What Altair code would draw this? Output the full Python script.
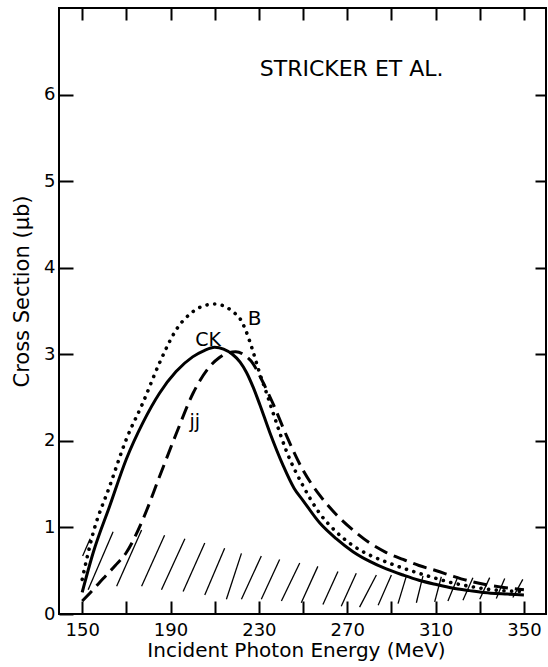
import altair as alt
import pandas as pd

# ---------------- data ----------------
# CK (solid)
ck_e = [150, 155, 162.5, 170, 177.5, 185, 192.5, 200, 205, 210, 214, 218, 221.5,
        224.4, 227.4, 230.4, 234.9, 240.9, 246, 250, 257.6, 265, 272.6, 280,
        287.7, 295.3, 302.5, 310.4, 317.5, 325.4, 335, 342.5, 350]
ck_v = [0.25, 0.71, 1.25, 1.79, 2.21, 2.55, 2.80, 2.97, 3.04, 3.08, 3.06, 3.00, 2.91,
        2.79, 2.62, 2.42, 2.10, 1.72, 1.45, 1.31, 1.05, 0.87, 0.72, 0.61,
        0.52, 0.45, 0.39, 0.34, 0.30, 0.27, 0.24, 0.23, 0.22]

# jj (dashed)
jj_e = [150, 154.5, 159.5, 165, 170, 177.6, 185.2, 192.7, 200.2, 207.8, 212, 215.3,
        219.5, 224, 227.4, 231, 236.4, 242.5, 250, 257.6, 265, 272.6, 280.2,
        287.7, 295.3, 302.5, 310.4, 317.5, 325.4, 332.5, 340, 350]
jj_v = [0.15, 0.27, 0.41, 0.56, 0.71, 1.10, 1.60, 2.09, 2.55, 2.86, 2.96, 3.01,
        3.03, 2.98, 2.89, 2.72, 2.43, 2.06, 1.66, 1.37, 1.15, 0.97, 0.82,
        0.71, 0.63, 0.56, 0.50, 0.44, 0.38, 0.34, 0.31, 0.28]

# B (dotted)
b_e = [150, 155, 162.5, 170, 177.5, 185, 192.5, 200, 205, 210, 214, 218.3, 221.5,
       224, 227, 230, 233.5, 237, 242.5, 250, 257.6, 265, 272.6, 280.2, 287.7,
       295.3, 302.5, 310.4, 317.5, 325.4, 332.5, 340, 350]
b_v = [0.40, 0.94, 1.48, 2.02, 2.44, 2.90, 3.28, 3.49, 3.56, 3.58, 3.56, 3.49, 3.41,
       3.28, 3.06, 2.81, 2.55, 2.28, 1.88, 1.48, 1.16, 0.95, 0.79, 0.68, 0.60,
       0.53, 0.47, 0.41, 0.36, 0.32, 0.29, 0.27, 0.26]

# hatched band (short slanted strokes)
hatch_x0 = [150.2, 152.7, 165.6, 176.9, 185.9, 195.7, 205.5, 215.3, 222.1, 231.1,
            240.2, 249.2, 259.0, 267.3, 275.6, 284.0, 293.0, 301.3, 309.6, 315.6,
            322.4, 330.0, 337.5, 345.0]
hatch_y0 = [0.67, 0.28, 0.32, 0.32, 0.28, 0.26, 0.22, 0.17, 0.17, 0.17,
            0.15, 0.13, 0.11, 0.09, 0.08, 0.10, 0.12, 0.13, 0.14, 0.15,
            0.16, 0.17, 0.18, 0.19]
hatch_x1 = [153.6, 164.0, 176.9, 187.3, 196.5, 205.5, 214.5, 222.1, 231.1, 239.4,
            248.5, 256.7, 265.8, 274.1, 283.2, 290.0, 296.8, 304.3, 312.6, 320.1,
            326.9, 334.5, 341.3, 349.5]
hatch_y1 = [0.87, 0.95, 0.97, 0.91, 0.87, 0.82, 0.76, 0.70, 0.67, 0.63,
            0.59, 0.55, 0.49, 0.47, 0.45, 0.45, 0.44, 0.44, 0.43, 0.43,
            0.42, 0.42, 0.41, 0.40]

label_text = ["STRICKER ET AL.", "B", "CK", "jj"]
label_e = [272, 228.1, 207, 201]
label_v = [6.30, 3.41, 3.16, 2.22]
label_fs = [22, 20, 19, 19]

x_tick_values = [150, 170, 190, 210, 230, 250, 270, 290, 310, 330, 350]
y_tick_values = [0, 1, 2, 3, 4, 5, 6]
y_right_ticks = [1, 2, 3, 4, 5, 6]

# ---------------- chart ----------------
FONT = "DejaVu Sans"
xs = alt.Scale(domain=[139.5, 360], nice=False, zero=False)
ys = alt.Scale(domain=[0, 7], nice=False, zero=False)

x_bottom = alt.Axis(
    values=x_tick_values,
    labelExpr="(datum.value - 150) % 40 == 0 ? datum.label : ''",
    offset=-13, tickSize=13, tickWidth=2, tickColor="black",
    domain=False, grid=False, labelFlush=False, labelOverlap=False,
    labelFont=FONT, labelFontSize=18, labelColor="black", labelPadding=7,
    title="Incident Photon Energy (MeV)", titleFont=FONT, titleFontSize=20,
    titleFontWeight="normal", titleColor="black",
    titleX=237, titleY=55, titleBaseline="alphabetic", titleAlign="center",
)
y_left = alt.Axis(
    values=y_tick_values, format="d",
    offset=-14, tickSize=14, tickWidth=2, tickColor="black",
    domain=False, grid=False, labelFlush=False, labelOverlap=False,
    labelFont=FONT, labelFontSize=18, labelColor="black", labelPadding=4,
    title="Cross Section (μb)", titleFont=FONT, titleFontSize=21,
    titleFontWeight="normal", titleColor="black", titleAngle=270,
    titleX=-45, titleY=283, titleBaseline="alphabetic", titleAlign="center",
)
x_top = alt.Axis(
    orient="top", values=x_tick_values, labels=False,
    offset=-12, tickSize=12, tickWidth=2, tickColor="black",
    domain=False, grid=False, title=None,
)
y_right = alt.Axis(
    orient="right", values=y_right_ticks, labels=False,
    offset=-11, tickSize=11, tickWidth=2, tickColor="black",
    domain=False, grid=False, title=None,
)

ck_df = pd.DataFrame({"E": ck_e, "v": ck_v})
jj_df = pd.DataFrame({"E": jj_e, "v": jj_v})
b_df = pd.DataFrame({"E": b_e, "v": b_v})
hatch_df = pd.DataFrame({"x0": hatch_x0, "y0": hatch_y0, "x1": hatch_x1, "y1": hatch_y1})
lab_df = pd.DataFrame({"E": label_e, "v": label_v, "t": label_text, "fs": label_fs})

ck_line = alt.Chart(ck_df).mark_line(
    color="black", strokeWidth=3, interpolate="monotone"
).encode(
    x=alt.X("E:Q", scale=xs, axis=x_bottom),
    y=alt.Y("v:Q", scale=ys, axis=y_left),
)

b_line = alt.Chart(b_df).mark_line(
    color="black", strokeWidth=3.6, strokeCap="round", strokeDash=[0.1, 7.6],
    interpolate="monotone",
).encode(
    x=alt.X("E:Q", scale=xs, axis=x_top),
    y=alt.Y("v:Q", scale=ys, axis=y_right),
)

jj_line = alt.Chart(jj_df).mark_line(
    color="black", strokeWidth=3, strokeDash=[14, 7], interpolate="monotone"
).encode(
    x=alt.X("E:Q", scale=xs, axis=None),
    y=alt.Y("v:Q", scale=ys, axis=None),
)

hatch = alt.Chart(hatch_df).mark_rule(color="black", strokeWidth=1.3).encode(
    x=alt.X("x0:Q", scale=xs, axis=None),
    y=alt.Y("y0:Q", scale=ys, axis=None),
    x2="x1:Q",
    y2="y1:Q",
)

labels = alt.Chart(lab_df).mark_text(
    font=FONT, color="black", align="center", baseline="middle"
).encode(
    x=alt.X("E:Q", scale=xs, axis=None),
    y=alt.Y("v:Q", scale=ys, axis=None),
    text="t:N",
    size=alt.Size("fs:Q", scale=None),
)

chart = alt.layer(ck_line, b_line, jj_line, hatch, labels).resolve_axis(
    x="independent", y="independent"
).properties(
    width=487, height=606, autosize="none",
    padding={"left": 59, "top": 8, "right": 2, "bottom": 53},
    background="white",
).configure_view(
    stroke="black", strokeWidth=2
)

chart.save("out.html", embed_options={"renderer": "svg", "actions": False})
